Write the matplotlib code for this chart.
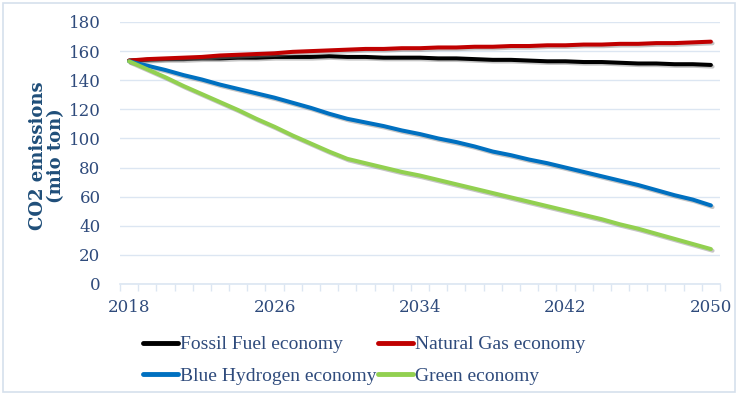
import matplotlib
matplotlib.use("Agg")
import matplotlib.pyplot as plt
import matplotlib.patheffects as pe
from matplotlib.patches import Rectangle
import numpy as np

years = list(range(2018, 2051))
fossil = [153.5, 154, 154.5, 154.5, 155, 155, 155.5, 155.5, 156, 156, 156, 156.5, 156,
          156, 155.5, 155.5, 155.5, 155, 155, 154.5, 154, 154, 153.5, 153, 153, 152.5,
          152.5, 152, 151.5, 151.5, 151, 151, 150.5]
natgas = [153.5, 154.5, 155, 155.5, 156, 157, 157.5, 158, 158.5, 159.5, 160, 160.5, 161,
          161.5, 161.5, 162, 162, 162.5, 162.5, 163, 163, 163.5, 163.5, 164, 164, 164.5,
          164.5, 165, 165, 165.5, 165.5, 166, 166.5]
blue = [153, 150, 147, 143.5, 140.5, 137, 134, 131, 128, 124.5, 121, 117, 113.5, 111,
        108.5, 105.5, 103, 100, 97.5, 94.5, 91, 88.5, 85.5, 83, 80, 77, 74, 71, 68, 64.5,
        61, 58, 54]
green = [153, 147.5, 142, 136, 130.5, 125, 119.5, 113.5, 108, 102, 96.5, 91, 86, 83, 80,
         77, 74.5, 71.5, 68.5, 65.5, 62.5, 59.5, 56.5, 53.5, 50.5, 47.5, 44.5, 41, 38, 34.5,
         31, 27.5, 24]
series_names = ["Fossil Fuel economy", "Natural Gas economy",
                "Blue Hydrogen economy", "Green economy"]
series_colors = ["#000000", "#C00000", "#0070C0", "#92D050"]
xtick_years = [2018, 2026, 2034, 2042, 2050]
yticks = list(range(0, 181, 20))

W, H = 738, 395
fig = plt.figure(figsize=(W / 100, H / 100), dpi=100)
fig.patches.append(Rectangle((3 / W, 3 / H), 1 - 6 / W, 1 - 6 / H, transform=fig.transFigure,
                             fill=False, edgecolor="#D6E0EC", linewidth=1.2))

ax = fig.add_axes([120 / W, 1 - 284 / H, 600 / W, 262 / H])
serif = "DejaVu Serif"
legend_font = "Liberation Serif"
tick_color = "#2F4B7C"
grid_color = "#DCE6F2"

shadow = [pe.SimpleLineShadow(offset=(1.2, -1.2), shadow_color="#808080", alpha=0.45),
          pe.Normal()]
handles = {}
for vals, name, col in zip([fossil, natgas, blue, green], series_names, series_colors):
    h, = ax.plot(years, vals, color=col, lw=2.9, label=name, solid_capstyle="round",
                 path_effects=shadow)
    handles[name] = h

ax.set_xlim(2017.5, 2050.5)
ax.set_ylim(0, 180)
ax.set_yticks(yticks)
ax.set_xticks(xtick_years)
ax.set_xticks(np.arange(2017.5, 2051, 1.0), minor=True)
ax.tick_params(axis="x", which="minor", length=5, color=grid_color, width=1, direction="out")
ax.tick_params(axis="x", which="major", length=0, pad=11, labelsize=12, labelcolor=tick_color)
ax.tick_params(axis="y", length=0, pad=14, labelsize=12, labelcolor=tick_color)
for lab in ax.get_xticklabels() + ax.get_yticklabels():
    lab.set_family(serif)
ax.grid(axis="y", color=grid_color, lw=1)
ax.set_axisbelow(True)
for s in ["left", "right", "top"]:
    ax.spines[s].set_visible(False)
ax.spines["bottom"].set_color(grid_color)
ax.spines["bottom"].set_linewidth(1.2)

fig.text(47 / W, 1 - 156 / H, "CO2 emissions\n(mio ton)", rotation=90, ha="center", va="center",
         fontsize=13, fontweight="bold", color="#1F4E79", family=serif, linespacing=1.0)

order = ["Fossil Fuel economy", "Blue Hydrogen economy", "Natural Gas economy", "Green economy"]
leg = fig.legend(handles=[handles[n] for n in order], loc="upper left",
                 bbox_to_anchor=(133 / W, 1 - 326 / H),
                 ncol=2, frameon=False, prop={"family": legend_font, "size": 14},
                 handlelength=1.8, handletextpad=0.1, columnspacing=0.1, labelspacing=0.72,
                 borderpad=0)
for t in leg.get_texts():
    t.set_color(tick_color)
for lh in leg.get_lines():
    lh.set_linewidth(3.5)
    lh.set_path_effects([])

fig.savefig("out.png", dpi=100)
